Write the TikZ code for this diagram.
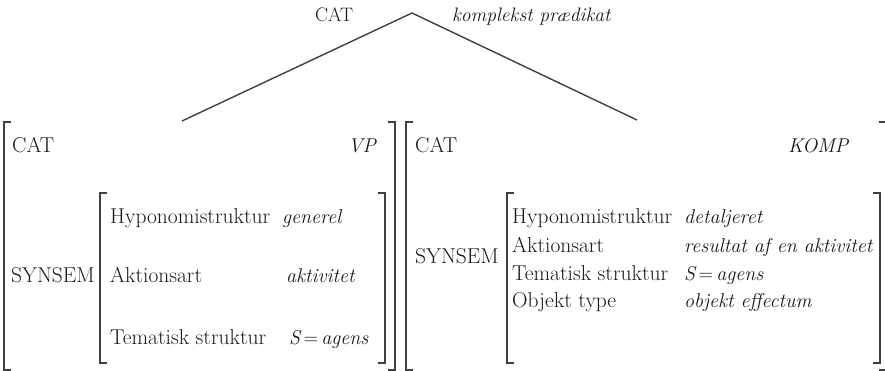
\documentclass[tikz,border=0pt]{standalone}
\usepackage{fontspec}
\usepackage{tikz}

\begin{document}
\begin{tikzpicture}[x=1pt, y=-1pt,
  txt/.style={anchor=base west, inner sep=0pt, text=black!90,
    font=\fontsize{21.5}{25}\selectfont},
  val/.style={txt, font=\fontsize{20}{24}\selectfont\itshape},
  brk/.style={line width=1.4pt, black!75}]

  \useasboundingbox (0,0) rectangle (885,371);

  % Bracket heights
  \def\otop{122}
  \def\obot{370}
  \def\itop{193}
  \def\ibot{363}
  \def\tick{7}

  % === Tree top
  \node[txt, font=\fontsize{19.5}{22}\selectfont] (topcat) at (315,22) {CAT};
  \node[val, font=\fontsize{19.5}{22}\selectfont\itshape] (toppred) at (452,22) {komplekst prædikat};
  \coordinate (apex) at (412,13);
  \coordinate (lend) at (182,121);
  \coordinate (rend) at (637,120);
  \draw[brk] (lend) -- (apex) -- (rend);

  % === Left AVM: outer bracket
  \draw[brk] (4+\tick,\otop) -- (4,\otop) -- (4,\obot) -- (4+\tick,\obot);
  \draw[brk] (395-\tick,\otop) -- (395,\otop) -- (395,\obot) -- (395-\tick,\obot);
  \node[txt] (lcat) at (12,153) {CAT};
  \node[val] (lvp) at (348,153) {VP};
  \node[txt] (lsyn) at (11,282) {SYNSEM};

  % inner bracket
  \draw[brk] (100+\tick,\itop) -- (100,\itop) -- (100,\ibot) -- (100+\tick,\ibot);
  \draw[brk] (385-\tick,\itop) -- (385,\itop) -- (385,\ibot) -- (385-\tick,\ibot);
  \node[txt] (lhyp) at (110,223) {Hyponomistruktur};
  \node[val] (lhypv) at (282,223) {generel};
  \node[txt] (lakt) at (110,282) {Aktionsart};
  \node[val] (laktv) at (286,282) {aktivitet};
  \node[txt] (ltem) at (110,344) {Tematisk struktur};
  \node[val] (ltemv) at (289,344) {S\,{\upshape =}\,agens};

  % === Right AVM: outer bracket
  \draw[brk] (406+\tick,\otop) -- (406,\otop) -- (406,\obot) -- (406+\tick,\obot);
  \draw[brk] (886-\tick,\otop) -- (886,\otop) -- (886,\obot) -- (886-\tick,\obot);
  \node[txt] (rcat) at (415,153) {CAT};
  \node[val] (rkomp) at (788,153) {KOMP};
  \node[txt] (rsyn) at (415,263) {SYNSEM};

  % inner bracket
  \draw[brk] (507+\tick,\itop) -- (507,\itop) -- (507,\ibot) -- (507+\tick,\ibot);
  \draw[brk] (880-\tick,\itop) -- (880,\itop) -- (880,\ibot) -- (880-\tick,\ibot);
  \node[txt] (rhyp) at (512,224) {Hyponomistruktur};
  \node[val] (rhypv) at (684,224) {detaljeret};
  \node[txt] (rakt) at (512,252) {Aktionsart};
  \node[val] (raktv) at (684,252) {resultat af en aktivitet};
  \node[txt] (rtem) at (512,280) {Tematisk struktur};
  \node[val] (rtemv) at (684,280) {S\,{\upshape =}\,agens};
  \node[txt] (robj) at (512,307) {Objekt type};
  \node[val] (robjv) at (684,307) {objekt effectum};

\end{tikzpicture}
\end{document}
